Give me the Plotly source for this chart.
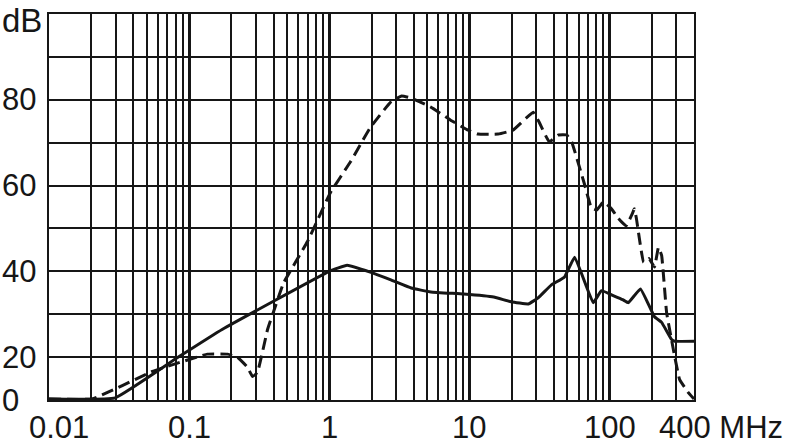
import numpy as np
import plotly.graph_objects as go

# solid curve (frequency in MHz, level in dB)
solid_freq = [0.01, 0.0297, 0.0837, 0.173, 1.0, 1.34, 1.96, 2.75, 3.84, 5.3, 9.1,
              14.9, 19.8, 26.3, 30.9, 38.3, 47.7, 56.3, 76.4, 87.4, 107, 124, 136,
              166, 209, 235, 277, 291, 400]
solid_db = [0.5, 1, 20, 26.5, 40, 41.4, 39.8, 38, 36.1, 35.2, 34.7,
            34, 32.9, 32.4, 33.8, 36.8, 38.7, 43.3, 32.7, 35.5, 34.3, 33.4, 32.7,
            35.9, 29.4, 28.1, 24.1, 23.7, 23.7]

# dashed curve
dashed_freq = [0.01, 0.0203, 0.0545, 0.0865, 0.135, 0.188, 0.221, 0.261, 0.283,
               0.307, 0.363, 0.400, 0.472, 0.700, 1.02, 1.42, 1.96, 2.75, 3.28,
               3.84, 5.3, 7.3, 9.8, 11.5, 16.0, 20.4, 28.5, 31.4, 37.1, 43.2,
               49.4, 53.6, 66.2, 74.1, 81.0, 90.4, 103, 115.6, 131, 145, 150,
               155, 175, 191, 209, 223, 235, 255, 291, 316, 366, 400]
dashed_db = [0.5, 0.5, 13.3, 17.6, 20.7, 20.7, 20, 15.2, 11,
             12.9, 26.5, 30.6, 37.3, 47, 58.4, 65.6, 73.5, 79.5, 80.9,
             80.4, 78.3, 75.3, 72.9, 72, 72, 72.9, 77.1, 74.8, 70.2, 71.8,
             71.8, 70.2, 60.3, 54.8, 54.3, 56.2, 54.6, 52.3, 50.6, 53.4, 54.6,
             52.5, 42.1, 43, 41, 45.6, 43.7, 30.4, 20.2, 9.5, 3.3, 0.5]

y_ticks = [0, 20, 40, 60, 80]
x_ticks = [0.01, 0.1, 1, 10, 100]
x_labels = ["0.01", "0.1", "1", "10", "100"]

INK = "#161616"
FONT = "Liberation Sans, Arial, Helvetica, sans-serif"


def squash(db):
    # the 0..20 dB band is drawn at half scale (axis broken below 20)
    db = np.asarray(db, dtype=float)
    return np.where(db < 20, 10 + db / 2, db)


fig = go.Figure()
fig.add_trace(go.Scatter(x=solid_freq, y=squash(solid_db), mode="lines",
                         line=dict(color=INK, width=3, shape="spline", smoothing=0.3),
                         cliponaxis=False))
fig.add_trace(go.Scatter(x=dashed_freq, y=squash(dashed_db), mode="lines",
                         line=dict(color=INK, width=3, dash="12px,6px",
                                   shape="spline", smoothing=0.3),
                         cliponaxis=False))

minor_vals = [m * 10.0 ** k for k in range(-2, 2) for m in range(2, 10)] + [200, 300]

fig.update_xaxes(type="log", range=[-2, np.log10(400)],
                 tickvals=x_ticks[1:], showticklabels=False, ticks="",
                 showgrid=True, gridcolor=INK, gridwidth=2.6,
                 minor=dict(tickvals=minor_vals, showgrid=True,
                            gridcolor=INK, gridwidth=1.6, ticks=""),
                 showline=True, linecolor=INK, linewidth=2.4, mirror=True,
                 zeroline=False)
fig.update_yaxes(range=[10, 100], tickvals=list(range(10, 101, 10)),
                 showticklabels=False, ticks="",
                 showgrid=True, gridcolor=INK, gridwidth=1.8,
                 showline=True, linecolor=INK, linewidth=2.4, mirror=True,
                 zeroline=False)

plot_w = 790 - 49 - 96
lab_x = -49 / plot_w
annotations = []
for v in y_ticks:
    annotations.append(dict(x=lab_x, xref="paper", xanchor="left",
                            y=float(squash([v])[0]), yref="y", yanchor="middle",
                            text=str(v), showarrow=False))
annotations.append(dict(x=lab_x, xref="paper", xanchor="left",
                        y=100, yref="y", yanchor="middle", yshift=-6,
                        text="dB", font=dict(size=33), showarrow=False))
for v, lab in zip(x_ticks, x_labels):
    annotations.append(dict(x=np.log10(v), xref="x", xanchor="center",
                            xshift=10 if v == 0.01 else 0,
                            y=0, yref="paper", yanchor="middle", yshift=-27,
                            text=lab, showarrow=False))
annotations.append(dict(x=np.log10(400), xref="x", xanchor="left", xshift=-37,
                        y=0, yref="paper", yanchor="middle", yshift=-27,
                        text="400 MHz", showarrow=False))

fig.update_layout(width=790, height=445,
                  margin=dict(l=49, r=96, t=12, b=45),
                  paper_bgcolor="white", plot_bgcolor="white",
                  showlegend=False,
                  font=dict(family=FONT, size=31, color=INK),
                  annotations=annotations)

# page body has a default 8px margin; drop it so the chart sits at the corner
fig.write_html("out.html", config={"displayModeBar": False},
               post_script="document.body.style.margin='0';")
